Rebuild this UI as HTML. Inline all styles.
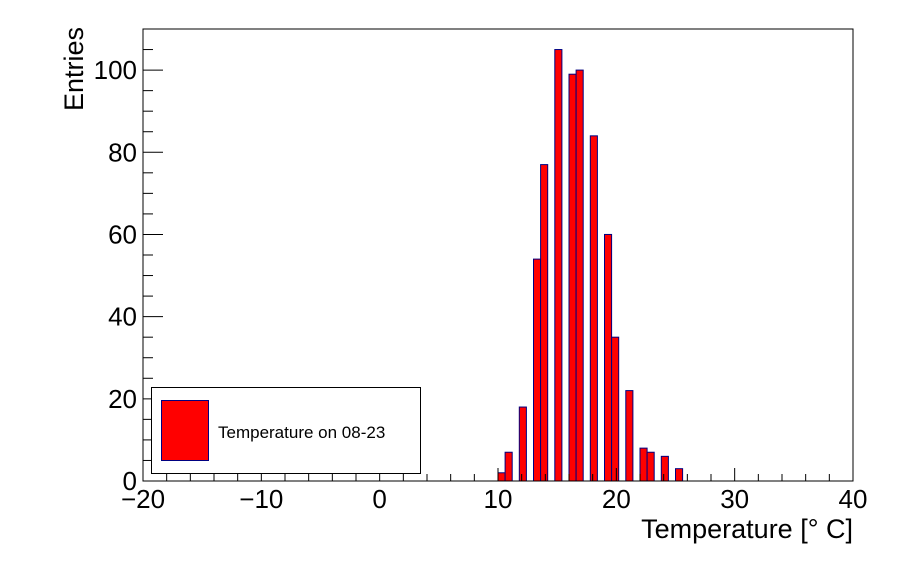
<!DOCTYPE html>
<html><head><meta charset="utf-8"><style>
body{margin:0;background:#fff}
svg{display:block;font-family:"Liberation Sans",sans-serif}
</style></head><body>
<svg id="c" width="898" height="574">
<rect x="0" y="0" width="898" height="574" fill="#fff"/>
<g id="bars"></g>
<g id="axes"></g>
<rect x="143" y="29" width="710" height="452" fill="none" stroke="#000" stroke-width="1"/>
<text x="853" y="538" font-size="27" text-anchor="end">Temperature [° C]</text>
<text transform="translate(83,111) rotate(-90)" font-size="27" text-anchor="start">Entries</text>
<g>
<rect x="151.5" y="387.5" width="269" height="86" fill="#fff" stroke="#000"/>
<rect x="161.5" y="400.5" width="47" height="60" fill="#ff0000" stroke="#000080"/>
<text x="218" y="438" font-size="17">Temperature on 08-23</text>
</g>
</svg>
<script>
const binStarts=[10,10.6,11.8,13,13.6,14.8,16,16.6,17.8,19,19.6,20.8,22,22.6,23.8,25];
const counts=[2,7,18,54,77,105,99,100,84,60,35,22,8,7,6,3];
const xTicks=[-20,-10,0,10,20,30,40];
const yTicks=[0,20,40,60,80,100];
const binWidth=0.6;
const X0=143,X1=853,Y0=481,Y1=29,xmin=-20,xmax=40,ymax=110;
const sx=v=>X0+(v-xmin)/(xmax-xmin)*(X1-X0);
const sy=v=>Y0-v/ymax*(Y0-Y1);
const NS='http://www.w3.org/2000/svg';
const bars=document.getElementById('bars'),axes=document.getElementById('axes');
binStarts.forEach((b,i)=>{
 const r=document.createElementNS(NS,'rect');
 r.setAttribute('x',sx(b));r.setAttribute('width',sx(b+binWidth)-sx(b));
 r.setAttribute('y',sy(counts[i]));r.setAttribute('height',Y0-sy(counts[i]));
 r.setAttribute('fill','#ff0000');r.setAttribute('stroke','#000080');r.setAttribute('stroke-width','1');
 
 
 bars.appendChild(r);
});
function line(x1,y1,x2,y2){const l=document.createElementNS(NS,'line');l.setAttribute('x1',x1);l.setAttribute('y1',y1);l.setAttribute('x2',x2);l.setAttribute('y2',y2);l.setAttribute('stroke','#000');


axes.appendChild(l);}
function text(x,y,s,anchor,name){const t=document.createElementNS(NS,'text');t.setAttribute('x',x);t.setAttribute('y',y);t.setAttribute('font-size','26');t.setAttribute('text-anchor',anchor);t.textContent=s;


axes.appendChild(t);}
for(let v=xmin;v<=xmax;v+=2){const major=(v%10===0);line(sx(v),Y0,sx(v),Y0-(major?13:7));}
xTicks.forEach(v=>text(sx(v),508,v<0?'\u2212'+(-v):String(v),'middle','x-tick-label'));
for(let v=0;v<=ymax;v+=5){const major=(v%20===0);line(X0,sy(v),X0+(major?20:10),sy(v));}
yTicks.forEach(v=>text(137,sy(v)+9,String(v),'end','y-tick-label'));
</script>
</body></html>
